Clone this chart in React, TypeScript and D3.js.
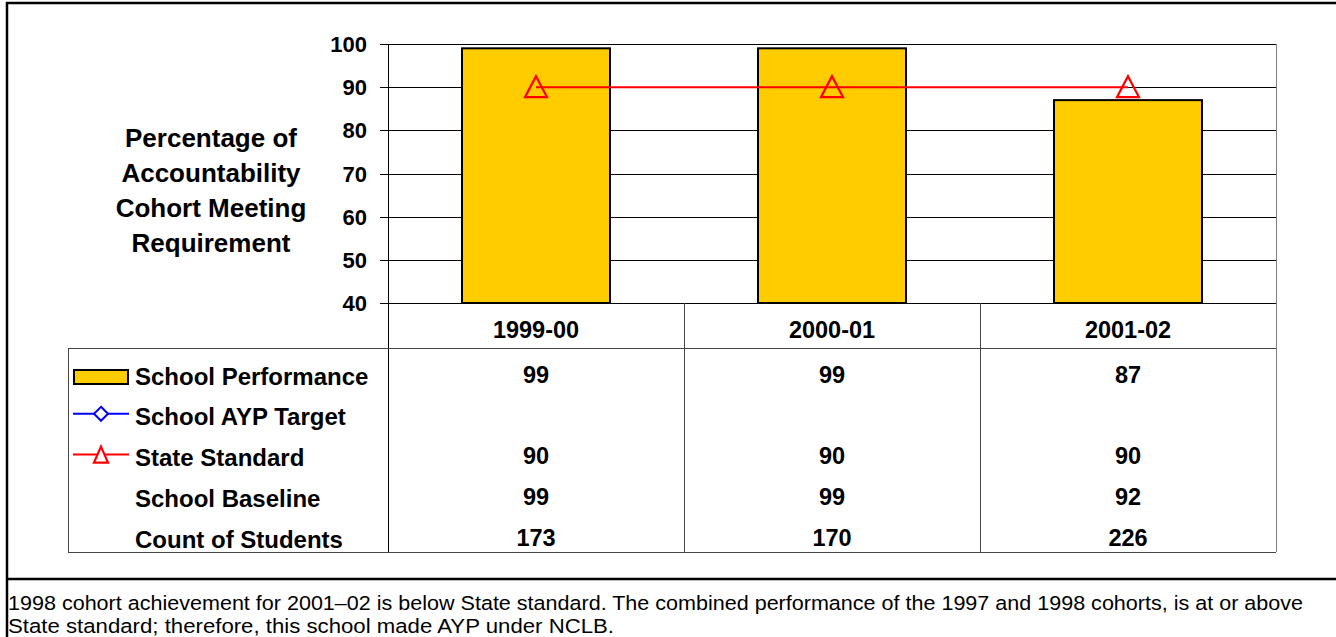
import React from "react";
import * as d3 from "d3";

const categories = ["1999-00", "2000-01", "2001-02"];
const schoolPerformance = [99, 99, 87];
const schoolAypTarget: (number | null)[] = [null, null, null];
const stateStandard = [90, 90, 90];
const schoolBaseline = [99, 99, 92];
const countOfStudents = [173, 170, 226];
const yTicks = [40, 50, 60, 70, 80, 90, 100];
const yLabel = ["Percentage of", "Accountability", "Cohort Meeting", "Requirement"];
const footnote = [
    "1998 cohort achievement for 2001\u201302 is below State standard. The combined performance of the 1997 and 1998 cohorts, is at or above",
    "State standard; therefore, this school made AYP under NCLB.",
];

const W = 1336;
const H = 637;
const plot = { left: 388, right: 1276, top: 44, bottom: 303 };
const table = { left: 68, top: 348, bottom: 552 };
const font = "'Liberation Sans', Arial, Helvetica, sans-serif";
const gold = "#FFCC00";

const rows = [
    { name: "School Performance", values: schoolPerformance, key: "bar" },
    { name: "School AYP Target", values: schoolAypTarget, key: "ayp" },
    { name: "State Standard", values: stateStandard, key: "state" },
    { name: "School Baseline", values: schoolBaseline, key: "none" },
    { name: "Count of Students", values: countOfStudents, key: "none" },
];

const App = () => {
    const y = d3.scaleLinear().domain([40, 100]).range([plot.bottom, plot.top]);
    const x = d3
        .scaleBand<string>()
        .domain(categories)
        .range([plot.left, plot.right])
        .paddingInner(0)
        .paddingOuter(0);
    const rowY = d3
        .scaleBand<string>()
        .domain(rows.map((r) => r.name))
        .range([table.top, table.bottom]);
    const barW = x.bandwidth() * 0.5;
    const cx = (c: string) => (x(c) as number) + x.bandwidth() / 2;

    const stateLine = d3
        .line<number>()
        .x((_, i) => cx(categories[i]))
        .y((d) => y(d));

    // open triangle marker, centred on the point
    const tri = (px: number, py: number) =>
        `M${px},${py - 11}L${px + 11},${py + 10}L${px - 11},${py + 10}Z`;

    return (
        <svg
            width={W}
            height={H}
            style={{ position: "absolute", left: 0, top: 0, background: "#fff" }}
            fontFamily={font}
        >
            {/* outer frame */}
            <line x1={6} x2={W} y1={3} y2={3} stroke="#000" strokeWidth={2.5} />
            <line x1={7} x2={7} y1={2} y2={H} stroke="#000" strokeWidth={2.5} />
            <line x1={6} x2={W} y1={579} y2={579} stroke="#000" strokeWidth={2.5} />

            {/* y label */}
            {yLabel.map((t, i) => (
                <text
                    key={t}
                    x={211}
                    y={147 + i * 35}
                    textAnchor="middle"
                    fontSize={26}
                    fontWeight="bold"
                >
                    {t}
                </text>
            ))}

            {/* gridlines + ticks */}
            {yTicks.map((t) => (
                <g key={t}>
                    <line
                        x1={380}
                        x2={plot.right}
                        y1={Math.round(y(t)) + 0.5}
                        y2={Math.round(y(t)) + 0.5}
                        stroke="#000"
                        strokeWidth={1}
                    />
                    <text
                        x={367}
                        y={y(t) + 8}
                        textAnchor="end"
                        fontSize={22}
                        fontWeight="bold"
                    >
                        {t}
                    </text>
                </g>
            ))}

            {/* bars */}
            {categories.map((c, i) => (
                <rect
                    key={c}
                    x={cx(c) - barW / 2}
                    y={y(schoolPerformance[i])}
                    width={barW}
                    height={y(40) - y(schoolPerformance[i])}
                    fill={gold}
                    stroke="#000"
                    strokeWidth={2}
                />
            ))}

            {/* state standard line */}
            <path d={stateLine(stateStandard) || ""} fill="none" stroke="#FF0000" strokeWidth={2} />
            {categories.map((c, i) => (
                <path
                    key={c}
                    d={tri(cx(c), y(stateStandard[i]))}
                    fill="none"
                    stroke="#FF0000"
                    strokeWidth={2.2}
                />
            ))}

            {/* data table */}
            <line x1={plot.left + 0.5} x2={plot.left + 0.5} y1={plot.top} y2={table.bottom} stroke="#000" />
            <line x1={table.left} x2={plot.right} y1={table.top + 0.5} y2={table.top + 0.5} stroke="#444" />
            <line x1={table.left} x2={plot.right} y1={table.bottom + 0.5} y2={table.bottom + 0.5} stroke="#444" />
            <line x1={table.left + 0.5} x2={table.left + 0.5} y1={table.top} y2={table.bottom} stroke="#444" />
            {categories.slice(1).map((c) => (
                <line
                    key={c}
                    x1={(x(c) as number) + 0.5}
                    x2={(x(c) as number) + 0.5}
                    y1={plot.bottom}
                    y2={table.bottom}
                    stroke="#444"
                />
            ))}
            <line x1={plot.right + 0.5} x2={plot.right + 0.5} y1={plot.top} y2={table.bottom} stroke="#808080" />

            {categories.map((c) => (
                <text
                    key={c}
                    x={cx(c)}
                    y={338}
                    textAnchor="middle"
                    fontSize={23.5}
                    fontWeight="bold"
                >
                    {c}
                </text>
            ))}

            {rows.map((r) => {
                const top = rowY(r.name) as number;
                const base = top + 36.5;
                const mid = top + 29;
                return (
                    <g key={r.name}>
                        {r.key === "bar" && (
                            <rect x={74} y={mid - 7} width={54} height={14} fill={gold} stroke="#000" strokeWidth={2} />
                        )}
                        {r.key === "ayp" && (
                            <g>
                                <line x1={73} x2={129} y1={mid - 4} y2={mid - 4} stroke="#0000FF" strokeWidth={2} />
                                <path
                                    d={`M101,${mid - 11}L108,${mid - 4}L101,${mid + 3}L94,${mid - 4}Z`}
                                    fill="#fff"
                                    stroke="#0000FF"
                                    strokeWidth={2}
                                />
                            </g>
                        )}
                        {r.key === "state" && (
                            <g>
                                <line x1={73} x2={129} y1={mid - 4} y2={mid - 4} stroke="#FF0000" strokeWidth={2} />
                                <path
                                    d={`M101,${mid - 12}L108,${mid + 4}L94,${mid + 4}Z`}
                                    fill="#fff"
                                    stroke="#FF0000"
                                    strokeWidth={2.2}
                                />
                            </g>
                        )}
                        <text x={135} y={base} fontSize={24} fontWeight="bold">
                            {r.name}
                        </text>
                        {categories.map((c, i) =>
                            r.values[i] == null ? null : (
                                <text
                                    key={c}
                                    x={cx(c)}
                                    y={base - 2}
                                    textAnchor="middle"
                                    fontSize={23.5}
                                    fontWeight="bold"
                                >
                                    {r.values[i]}
                                </text>
                            )
                        )}
                    </g>
                );
            })}

            {/* footnote */}
            {footnote.map((t, i) => (
                <text
                    key={i}
                    x={8}
                    y={610 + i * 23}
                    fontSize={20.5}
                    textLength={i === 0 ? 1295 : 606}
                    lengthAdjust="spacingAndGlyphs"
                >
                    {t}
                </text>
            ))}
        </svg>
    );
};

export default App;
